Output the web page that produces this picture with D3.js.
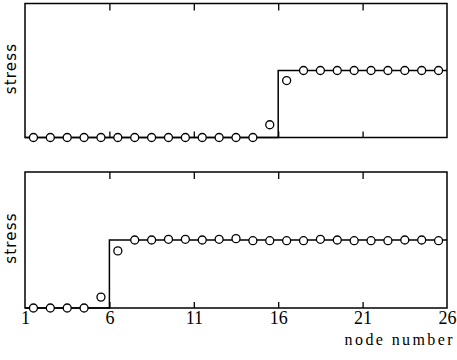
<!DOCTYPE html>
<html>
<head>
<meta charset="utf-8">
<script src="https://cdn.jsdelivr.net/npm/d3@7"></script>
<style>
  body { margin: 0; background: #fff; }
  svg { display: block; }
</style>
</head>
<body>
<div id="chart"></div>
<script>
// element mid-points (node number axis) and computed stresses
const elementPos = [1.5, 2.5, 3.5, 4.5, 5.5, 6.5, 7.5, 8.5, 9.5, 10.5, 11.5, 12.5, 13.5,
                    14.5, 15.5, 16.5, 17.5, 18.5, 19.5, 20.5, 21.5, 22.5, 23.5, 24.5, 25.5];
const stressTop = [0, 0, 0, 0, 0, 0, 0, 0, 0, 0, 0, 0, 0, 0, 0.19, 0.85,
                   1, 1, 1, 1, 1, 1, 1, 1, 1];
const stressBottom = [0, 0, 0, 0, 0.16, 0.84, 1.0, 1.0, 1.01, 1.01, 1.0, 1.01, 1.02,
                      0.99, 0.99, 0.99, 0.99, 1.01, 1.0, 0.99, 0.99, 0.99, 1.0, 1.0, 0.99];
// exact solution: step from 0 to 1 at the jump node
const exactTop = [[1, 0], [16, 0], [16, 1], [26, 1]];
const exactBottom = [[1, 0], [6, 0], [6, 1], [26, 1]];
const tickNodes = [1, 6, 11, 16, 21, 26];

const width = 457, height = 360;
const svg = d3.select("#chart").append("svg")
    .attr("width", width)
    .attr("height", height);

const x = d3.scaleLinear().domain([1, 26]).range([25, 447]);

function panel(top, bottom, stress, exact, showLabels) {
    const y = d3.scaleLinear().domain([0, 2]).range([bottom, top]);
    const g = svg.append("g");

    // inner ticks on top edge
    g.append("g")
        .attr("transform", `translate(0,${top})`)
        .call(d3.axisBottom(x).tickValues(tickNodes.slice(1, -1)).tickSize(7).tickFormat(""))
        .call(a => a.select(".domain").remove())
        .selectAll("line").attr("stroke", "#000").attr("stroke-width", 1.3);

    // inner ticks on bottom edge
    g.append("g")
        .attr("transform", `translate(0,${bottom})`)
        .call(d3.axisTop(x).tickValues(tickNodes.slice(1, -1)).tickSize(6).tickFormat(""))
        .call(a => a.select(".domain").remove())
        .selectAll("line").attr("stroke", "#000").attr("stroke-width", 1.3);

    // frame
    g.append("rect")
        .attr("x", x(1)).attr("y", top)
        .attr("width", x(26) - x(1)).attr("height", bottom - top)
        .attr("fill", "none").attr("stroke", "#000").attr("stroke-width", 1.5);

    // exact step
    g.append("path")
        .datum(exact)
        .attr("fill", "none")
        .attr("stroke", "#000")
        .attr("stroke-width", 1.5)
        .attr("d", d3.line().x(d => x(d[0])).y(d => y(d[1])));

    // computed points
    g.selectAll("circle")
        .data(stress)
        .join("circle")
        .attr("cx", (d, i) => x(elementPos[i]))
        .attr("cy", d => y(d))
        .attr("r", 4)
        .attr("fill", "#fff")
        .attr("stroke", "#000")
        .attr("stroke-width", 1.3);

    g.append("text")
        .attr("transform", `translate(16,${(top + bottom) / 2 - 2}) rotate(-90)`)
        .attr("text-anchor", "middle")
        .style("font-family", "DejaVu Sans")
        .style("font-size", "15px")
        .style("letter-spacing", "1.2px")
        .text("stress");

    if (showLabels) {
        g.append("g")
            .attr("transform", `translate(0,${bottom})`)
            .call(d3.axisBottom(x).tickValues(tickNodes).tickSize(0).tickPadding(3))
            .call(a => a.select(".domain").remove())
            .selectAll("text")
            .attr("fill", "#000")
            .style("font-family", "Liberation Serif")
            .style("font-size", "18px");
    }
}

panel(3.5, 137.5, stressTop, exactTop, false);
panel(172, 308, stressBottom, exactBottom, true);

svg.append("text")
    .attr("x", 455)
    .attr("y", 345)
    .attr("text-anchor", "end")
    .style("font-family", "Liberation Serif")
    .style("font-size", "16px")
    .style("letter-spacing", "2.4px")
    .text("node number");
</script>
</body>
</html>
